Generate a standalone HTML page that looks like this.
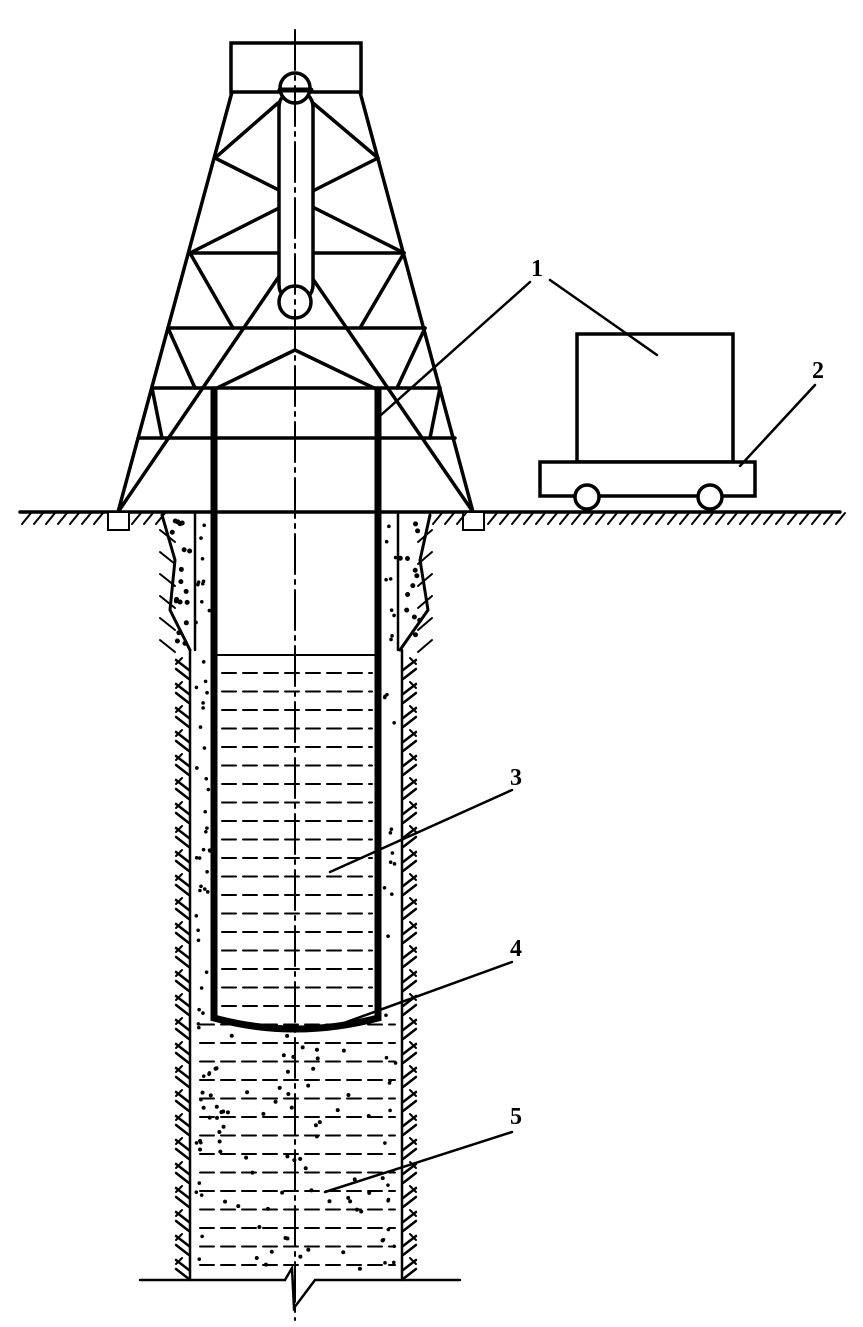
<!DOCTYPE html>
<html><head><meta charset="utf-8"><style>
html,body{margin:0;padding:0;background:#fff;}
svg{display:block;}
text{font-family:"Liberation Serif",serif;font-weight:bold;font-size:24px;fill:#000;}
</style></head><body>
<svg id="s" width="863" height="1327" viewBox="0 0 863 1327" xmlns="http://www.w3.org/2000/svg">
<g stroke="#000" fill="none" stroke-width="3.5" stroke-linecap="round">
<rect x="231" y="43" width="130" height="49" fill="#fff"/>
<line x1="232" y1="92" x2="118" y2="512"/>
<line x1="360" y1="92" x2="473" y2="512"/>
<line x1="278" y1="103" x2="215" y2="158"/>
<line x1="313" y1="103" x2="378" y2="158"/>
<line x1="215" y1="158" x2="404" y2="253"/>
<line x1="378" y1="158" x2="190" y2="253"/>
<line x1="190" y1="253" x2="404" y2="253"/>
<line x1="170" y1="328" x2="425" y2="328"/>
<line x1="152" y1="388" x2="440" y2="388"/>
<line x1="140" y1="438" x2="455" y2="438"/>
<line x1="295" y1="253" x2="118" y2="512"/>
<line x1="295" y1="253" x2="473" y2="512"/>
<line x1="190" y1="253" x2="233" y2="328"/>
<line x1="404" y1="253" x2="360" y2="328"/>
<line x1="168" y1="328" x2="195" y2="388"/>
<line x1="425" y1="328" x2="397" y2="388"/>
<line x1="152" y1="388" x2="162" y2="438"/>
<line x1="440" y1="388" x2="430" y2="438"/>
<polyline points="213,390 295,350 378,390"/>
<rect x="279" y="90" width="34" height="212" rx="17" fill="#fff"/>
<circle cx="295" cy="88" r="15" fill="#fff"/>
<line x1="280" y1="90" x2="311" y2="90" stroke-width="5"/>
<circle cx="295" cy="302" r="16" fill="#fff"/>
<rect x="577" y="334" width="156" height="128"/>
<rect x="540" y="462" width="215" height="34" fill="#fff"/>
<circle cx="587" cy="497" r="12" fill="#fff"/>
<circle cx="710" cy="497" r="12" fill="#fff"/>
<line x1="20" y1="512" x2="840" y2="512"/>
<rect x="108" y="512" width="21" height="18" fill="#fff" stroke-width="2"/>
<rect x="463" y="512" width="21" height="18" fill="#fff" stroke-width="2"/>
<polyline points="162,515 175,560 170,610 190,650" stroke-width="3"/>
<polyline points="430,515 420,560 428,610 400,650" stroke-width="3"/>
<line x1="195" y1="512" x2="195" y2="650" stroke-width="2.5"/>
<line x1="398" y1="512" x2="398" y2="650" stroke-width="2.5"/>
<line x1="190" y1="650" x2="190" y2="1280" stroke-width="2.5"/>
<line x1="402" y1="650" x2="402" y2="1280" stroke-width="2.5"/>
<path d="M214 390 V1018 Q295 1040 378 1018 V390" stroke-width="7"/>
<line x1="214" y1="655" x2="378" y2="655" stroke-width="2"/>
<polyline points="140,1280 285,1280 292,1268 294,1308 315,1280 460,1280" stroke-width="2.5"/>
<line x1="530" y1="282" x2="381" y2="415" stroke-width="2.5"/>
<line x1="550" y1="280" x2="657" y2="355" stroke-width="2.5"/>
<line x1="815" y1="385" x2="740" y2="466" stroke-width="2.5"/>
<line x1="512" y1="790" x2="330" y2="872" stroke-width="2.5"/>
<line x1="512" y1="962" x2="330" y2="1028" stroke-width="2.5"/>
<line x1="512" y1="1132" x2="325" y2="1192" stroke-width="2.5"/>
<line x1="295" y1="30" x2="295" y2="1320" stroke-width="2" stroke-dasharray="40 6 4 6"/>
<g id="dyn"></g>
</g>
<text x="531" y="276">1</text>
<text x="812" y="378">2</text>
<text x="510" y="785">3</text>
<text x="510" y="956">4</text>
<text x="510" y="1124">5</text>
</svg>
<script>
var g=document.getElementById('dyn'),h="";
for(var y=673;y<1275;y+=18.5){
 var x0=y<1020?222:200,x1=y<1020?372:395;
 h+='<line x1="'+x0+'" y1="'+y+'" x2="'+x1+'" y2="'+y+'" stroke-width="2" stroke-dasharray="14 7"/>';
}
function hatch(a,b){for(var x=a;x<b;x+=12)h+='<line x1="'+x+'" y1="524" x2="'+(x+9)+'" y2="513" stroke-width="2"/>';}
hatch(22,105);hatch(132,160);hatch(433,460);hatch(488,840);
for(var y=660;y<1270;y+=24){
 h+='<line x1="176" y1="'+y+'" x2="189" y2="'+(y+10)+'" stroke-width="2.5"/><line x1="176" y1="'+(y+9)+'" x2="189" y2="'+(y+19)+'" stroke-width="2.5"/><line x1="176" y1="'+(y+4)+'" x2="182" y2="'+(y-2)+'" stroke-width="2"/>';
 h+='<line x1="416" y1="'+y+'" x2="403" y2="'+(y+10)+'" stroke-width="2.5"/><line x1="416" y1="'+(y+9)+'" x2="403" y2="'+(y+19)+'" stroke-width="2.5"/><line x1="416" y1="'+(y+4)+'" x2="410" y2="'+(y-2)+'" stroke-width="2"/>';
}
for(var y=530;y<650;y+=22){
 h+='<line x1="160" y1="'+y+'" x2="175" y2="'+(y+12)+'" stroke-width="2"/>';
 h+='<line x1="432" y1="'+y+'" x2="418" y2="'+(y+12)+'" stroke-width="2"/>';
}
var seed=7;function r(){seed=(seed*9301+49297)%233280;return seed/233280;}
for(var i=0;i<90;i++){var y=520+r()*750;var side=r()<.5;var x=side?196+r()*14:383+r()*13;
 h+='<circle cx="'+x+'" cy="'+y+'" r="1.8" fill="#000" stroke="none"/>';}
for(var i=0;i<70;i++){var x=200+r()*190,y=1035+r()*235;
 h+='<circle cx="'+x+'" cy="'+y+'" r="2" fill="#000" stroke="none"/>';}
for(var i=0;i<30;i++){var y=520+r()*130;var x=r()<.5?172+r()*18:400+r()*22;
 h+='<circle cx="'+x+'" cy="'+y+'" r="2.5" fill="#000" stroke="none"/>';}
g.innerHTML=h;
</script>
</body></html>
